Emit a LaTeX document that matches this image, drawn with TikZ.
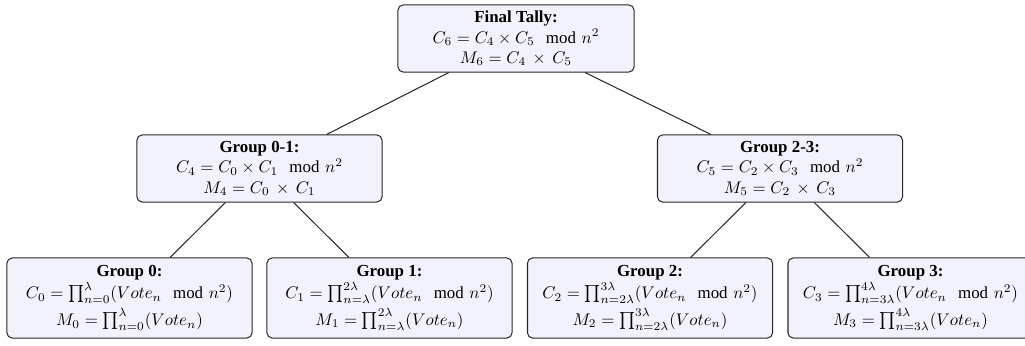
\documentclass[tikz,border=0pt]{standalone}
\usepackage{amsmath}
\usepackage{fontspec}
\setmainfont{Liberation Serif}
\begin{document}
\begin{tikzpicture}[x=0.5922pt,y=-0.5922pt,
  box/.style={draw=black!85,line width=0.6pt,rounded corners=3pt,
    fill={rgb,255:red,242;green,242;blue,252},align=center,inner sep=2pt},
  midbox/.style={box,minimum width=145.1pt,minimum height=39.7pt},
  leafbox/.style={box,minimum width=145.1pt,minimum height=47.4pt},
  link/.style={draw=black!85,line width=0.6pt}]
\useasboundingbox (0,0) rectangle (1025,346);
\node[box,minimum width=139.8pt,minimum height=39.7pt] (top) at (516,38.5)
  {\textbf{Final Tally:}\\$C_6 = C_4 \times C_5 \mod n^2$\\$M_6 = C_4\,\times\,C_5$};
\node[midbox] (g01) at (259.5,168.5)
  {\textbf{Group 0-1:}\\$C_4 = C_0 \times C_1 \mod n^2$\\$M_4 = C_0\,\times\,C_1$};
\node[midbox] (g23) at (780,168.5)
  {\textbf{Group 2-3:}\\$C_5 = C_2 \times C_3 \mod n^2$\\$M_5 = C_2\,\times\,C_3$};
\node[leafbox] (g0) at (129.5,298)
  {\textbf{Group 0:}\\$C_0 = \prod_{n=0}^{\lambda}(Vote_n \mod n^2)$\\[2pt]$M_0 = \prod_{n=0}^{\lambda}(Vote_n)$};
\node[leafbox] (g1) at (389.5,298)
  {\textbf{Group 1:}\\$C_1 = \prod_{n=\lambda}^{2\lambda}(Vote_n \mod n^2)$\\[2pt]$M_1 = \prod_{n=\lambda}^{2\lambda}(Vote_n)$};
\node[leafbox] (g2) at (650,298)
  {\textbf{Group 2:}\\$C_2 = \prod_{n=2\lambda}^{3\lambda}(Vote_n \mod n^2)$\\[2pt]$M_2 = \prod_{n=2\lambda}^{3\lambda}(Vote_n)$};
\node[leafbox] (g3) at (910.5,298)
  {\textbf{Group 3:}\\$C_3 = \prod_{n=3\lambda}^{4\lambda}(Vote_n \mod n^2)$\\[2pt]$M_3 = \prod_{n=3\lambda}^{4\lambda}(Vote_n)$};
\draw[link] (top) -- (g01);
\draw[link] (top) -- (g23);
\draw[link] (g01) -- (g0);
\draw[link] (g01) -- (g1);
\draw[link] (g23) -- (g2);
\draw[link] (g23) -- (g3);
\end{tikzpicture}
\end{document}
